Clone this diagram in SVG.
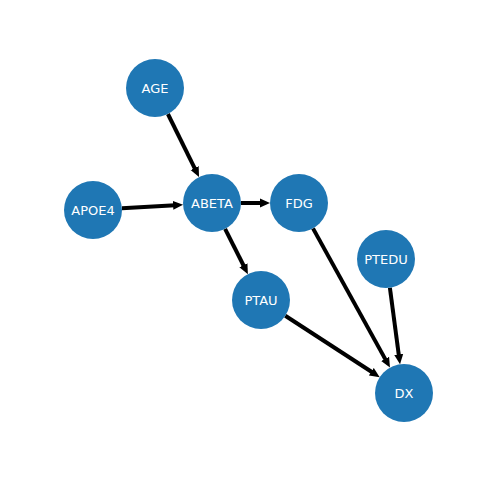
<svg xmlns="http://www.w3.org/2000/svg" width="486" height="486" viewBox="0 0 486 486">
<style>
.node circle{fill:#1f77b4}
.node text{fill:#fff;font-family:"DejaVu Sans",sans-serif;font-size:13px;text-anchor:middle;dominant-baseline:central}
#edges line{stroke:#000;stroke-width:4;marker-end:url(#arr)}
</style>
<defs>
<marker id="arr" markerUnits="userSpaceOnUse" markerWidth="11" markerHeight="10" refX="2" refY="5" orient="auto">
<path d="M0,0.5 L10,5 L0,9.5 z" fill="#000"/>
</marker>
</defs>
<rect width="486" height="486" fill="#fff"/>
<g id="edges">
<line x1="167.9" y1="114" x2="195.5" y2="169.8"/>
<line x1="121.9" y1="208.3" x2="175.1" y2="205.2"/>
<line x1="241" y1="203" x2="262" y2="203"/>
<line x1="225.1" y1="228.9" x2="244.3" y2="267"/>
<line x1="313" y1="228.4" x2="386.1" y2="360.6"/>
<line x1="285.3" y1="315.8" x2="373" y2="372.8"/>
<line x1="389.9" y1="287.7" x2="399" y2="356.4"/>
</g>
<g id="AGE" class="node"><circle cx="155" cy="88" r="29"/><text x="155" y="88">AGE</text></g>
<g id="APOE4" class="node"><circle cx="93" cy="210" r="29"/><text x="93" y="210">APOE4</text></g>
<g id="ABETA" class="node"><circle cx="212" cy="203" r="29"/><text x="212" y="203">ABETA</text></g>
<g id="FDG" class="node"><circle cx="299" cy="203" r="29"/><text x="299" y="203">FDG</text></g>
<g id="PTEDU" class="node"><circle cx="386" cy="259" r="29"/><text x="386" y="259">PTEDU</text></g>
<g id="PTAU" class="node"><circle cx="261" cy="300" r="29"/><text x="261" y="300">PTAU</text></g>
<g id="DX" class="node"><circle cx="404" cy="393" r="29"/><text x="404" y="393">DX</text></g>
</svg>
